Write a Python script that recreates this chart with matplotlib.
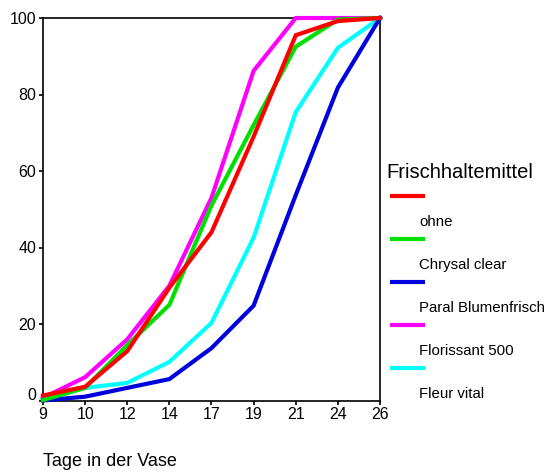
import matplotlib.pyplot as plt
import matplotlib.transforms as mtransforms
import numpy as np
from matplotlib.lines import Line2D

plt.rcParams['font.family'] = ['Liberation Sans', 'DejaVu Sans']

# data (percent of flowers wilted by day)
days = ['9', '10', '12', '14', '17', '19', '21', '24', '26']
ohne = [1.3, 3.6, 12.9, 29.5, 44.0, 69.0, 95.5, 99.2, 100]
chrysal = [0.1, 3.3, 14.5, 25.0, 51.0, 72.0, 92.5, 99.6, 100]
paral = [0.0, 1.0, 3.3, 5.6, 13.7, 24.8, 53.7, 81.8, 100]
florissant = [0.7, 6.1, 16.0, 30.0, 53.0, 86.2, 100, 100, 100]
fleur = [0.2, 3.3, 4.6, 10.1, 20.3, 42.6, 75.4, 92.2, 100]

names = ['ohne', 'Chrysal clear', 'Paral Blumenfrisch', 'Florissant 500', 'Fleur vital']
series = [ohne, chrysal, paral, florissant, fleur]
colors = ['#ff0000', '#00e000', '#0000dd', '#ff00ff', '#00ffff']

W, H = 547, 474
fig = plt.figure(figsize=(W / 100, H / 100), dpi=100)
ax = fig.add_axes([43 / W, 1 - 400.5 / H, (380 - 43) / W, (400.5 - 18) / H])

x = np.arange(len(days))
# draw in back-to-front order like the reference (red on top)
for i in [4, 2, 3, 1, 0]:
    ax.plot(x, series[i], color=colors[i], lw=3, clip_on=False,
            solid_joinstyle='miter', zorder=3 + (4 - i))

ax.set_xlim(0, len(days) - 1)
ax.set_ylim(0, 100)
ax.set_xticks(x)
ax.set_xticklabels(days)
ax.set_yticks([0, 20, 40, 60, 80, 100])
ax.tick_params(direction='out', length=3, width=1.2, labelsize=11.5, pad=2)
for s in ax.spines.values():
    s.set_linewidth(1.2)

# the "0" label sits a little higher in the reference
lab0 = ax.yaxis.get_major_ticks()[0].label1
lab0.set_transform(lab0.get_transform() +
                   mtransforms.ScaledTranslation(0, 7 / 100, fig.dpi_scale_trans))

fig.text(43 / W, 1 - 462 / H, 'Tage in der Vase', fontsize=13, va='center', ha='left')

# legend drawn by hand (SPSS style, labels sit below their swatch)
fig.text(386 / W, 1 - 173 / H, 'Frischhaltemittel', fontsize=14.5, va='center', ha='left')
for k, (name, c) in enumerate(zip(names, colors)):
    ys = 1 - (196 + 43 * k) / H
    fig.add_artist(Line2D([390 / W, 425 / W], [ys, ys], color=c, lw=3,
                          transform=fig.transFigure, solid_capstyle='butt'))
    fig.text(419 / W, 1 - (222 + 43 * k) / H, name, fontsize=10.8, va='center', ha='left')

fig.savefig('out.png', dpi=100)
